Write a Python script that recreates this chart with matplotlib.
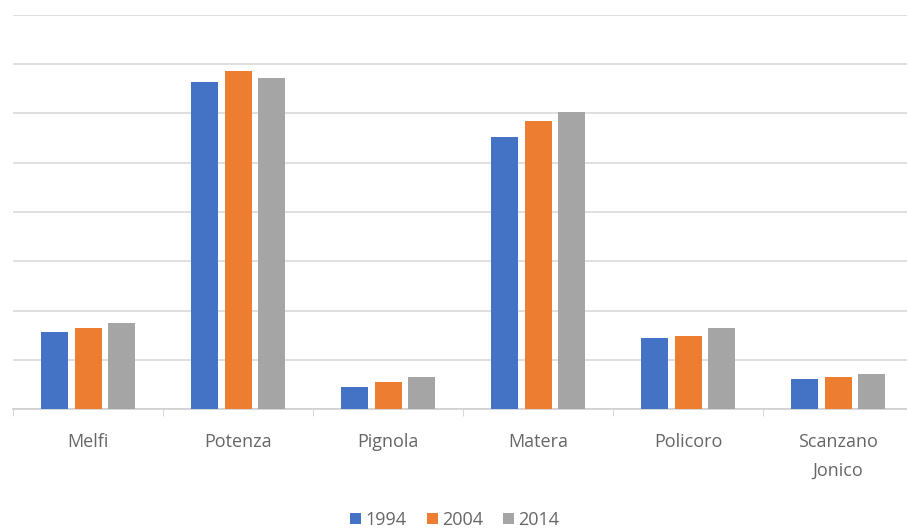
import numpy as np
import matplotlib.pyplot as plt

cities = ["Melfi", "Potenza", "Pignola", "Matera", "Policoro", "Scanzano\nJonico"]
years = ["1994", "2004", "2014"]
pop_1994 = [15560, 66400, 4500, 55200, 14500, 6100]
pop_2004 = [16500, 68600, 5500, 58500, 14900, 6400]
pop_2014 = [17500, 67300, 6500, 60400, 16500, 7100]
colors = ["#4472C4", "#ED7D31", "#A5A5A5"]

plt.rcParams['font.family'] = ['Open Sans', 'DejaVu Sans']

fig = plt.figure(figsize=(9.07, 5.32), dpi=100)
ax = fig.add_axes([13/907, (532-409)/532, 900/907, (409-15)/532])

x = np.arange(len(cities))
w = 0.18
step = 0.225
for i, (vals, yr) in enumerate(zip([pop_1994, pop_2004, pop_2014], years)):
    ax.bar(x + (i - 1) * step, vals, width=w, color=colors[i], label=yr, zorder=3)

ax.set_xlim(-0.5, len(cities) - 0.5)
ax.set_ylim(0, 80000)
ax.set_yticks(np.arange(0, 80001, 10000))
ax.yaxis.grid(True, color="#d9d9d9", linewidth=1.2, zorder=0)
ax.tick_params(axis="y", left=False, labelleft=False)

for s in ["top", "right", "left"]:
    ax.spines[s].set_visible(False)
ax.spines["bottom"].set_color("#d0d0d0")
ax.spines["bottom"].set_linewidth(1.2)

ax.set_xticks(x)
ax.set_xticklabels(cities, fontsize=13, color="#666666", linespacing=1.8)
ax.tick_params(axis="x", length=0, pad=17)
ax.set_xticks(np.arange(-0.5, len(cities), 1), minor=True)
ax.tick_params(axis="x", which="minor", length=5, color="#d0d0d0")

fig.legend(loc="center", bbox_to_anchor=(455/907, 1 - 520/532), ncol=3, frameon=False,
           fontsize=13, handlelength=0.6, handleheight=0.6, handletextpad=0.25,
           columnspacing=1.1, labelcolor="#666666")

fig.savefig("out.png", dpi=100)
